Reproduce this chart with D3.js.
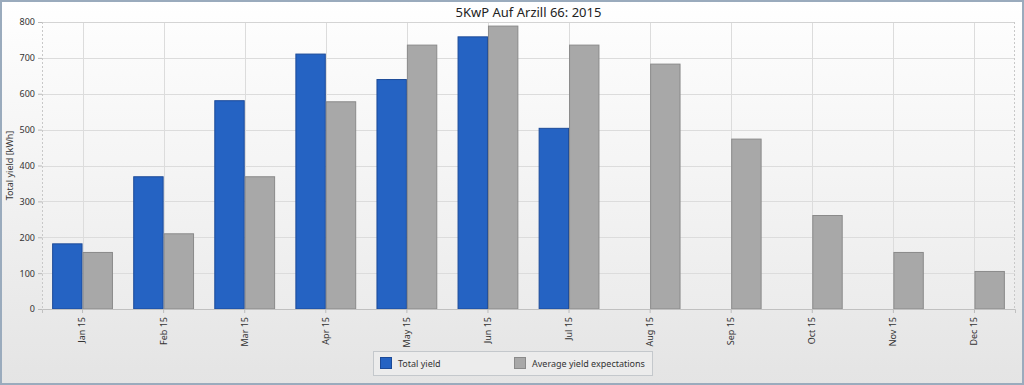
<!DOCTYPE html>
<html>
<head>
<meta charset="utf-8">
<script src="https://cdn.jsdelivr.net/npm/d3@7"></script>
<style>
  body { margin: 0; background: #fff; }
  svg { display: block; font-family: "Noto Sans", "Open Sans", sans-serif; }
</style>
</head>
<body>
<div id="chart"></div>
<script>
// data
var months = ["Jan 15", "Feb 15", "Mar 15", "Apr 15", "May 15", "Jun 15",
              "Jul 15", "Aug 15", "Sep 15", "Oct 15", "Nov 15", "Dec 15"];
var totalYield = [183, 370, 582, 712, 641, 760, 505, null, null, null, null, null];
var expectedYield = [159, 211, 370, 579, 737, 790, 737, 684, 475, 262, 159, 106];
var seriesNames = ["Total yield", "Average yield expectations"];
var yTicks = [0, 100, 200, 300, 400, 500, 600, 700, 800];

var width = 1024, height = 385;
var margin = { left: 42, top: 22, right: 9, bottom: 76 };
var innerW = width - margin.left - margin.right;
var innerH = height - margin.top - margin.bottom;

var colors = { fill: ["#2563c3", "#a8a8a8"], stroke: ["#1c4a98", "#8a8a8a"] };

var svg = d3.select("#chart").append("svg")
    .attr("width", width)
    .attr("height", height);

var defs = svg.append("defs");
var bgGrad = defs.append("linearGradient").attr("id", "bgGrad")
    .attr("x1", 0).attr("y1", 0).attr("x2", 0).attr("y2", 1);
bgGrad.append("stop").attr("offset", "0%").attr("stop-color", "#ffffff");
bgGrad.append("stop").attr("offset", "100%").attr("stop-color", "#e4e4e4");
var plotGrad = defs.append("linearGradient").attr("id", "plotGrad")
    .attr("x1", 0).attr("y1", 0).attr("x2", 0).attr("y2", 1);
plotGrad.append("stop").attr("offset", "0%").attr("stop-color", "#fdfdfd");
plotGrad.append("stop").attr("offset", "100%").attr("stop-color", "#ececec");

// outer frame
svg.append("rect")
    .attr("x", 1).attr("y", 1)
    .attr("width", width - 2).attr("height", height - 2)
    .attr("fill", "url(#bgGrad)")
    .attr("stroke", "#9aabbd")
    .attr("stroke-width", 2);

// title
svg.append("text")
    .attr("x", margin.left + innerW / 2)
    .attr("y", 17)
    .attr("text-anchor", "middle")
    .attr("font-size", "13px")
    .attr("fill", "#222")
    .text("5KwP Auf Arzill 66: 2015");

var g = svg.append("g").attr("transform", "translate(" + margin.left + "," + margin.top + ")");

// scales
var x0 = d3.scaleBand()
    .domain(months)
    .range([0, innerW])
    .paddingInner(0.25)
    .paddingOuter(0.125);

var x1 = d3.scaleBand()
    .domain([0, 1])
    .range([0, x0.bandwidth()]);

var y = d3.scaleLinear()
    .domain([0, 800])
    .range([innerH, 0]);

// plot background
g.append("rect")
    .attr("width", innerW).attr("height", innerH)
    .attr("fill", "url(#plotGrad)");

// grid
g.selectAll(".hgrid").data(yTicks).enter().append("line")
    .attr("x1", 0).attr("x2", innerW)
    .attr("y1", function (d) { return Math.round(y(d)) + 0.5; })
    .attr("y2", function (d) { return Math.round(y(d)) + 0.5; })
    .attr("stroke", "#dcdcdc");

g.selectAll(".vgrid").data(months).enter().append("line")
    .attr("x1", function (d) { return Math.round(x0(d) + x0.bandwidth() / 2) + 0.5; })
    .attr("x2", function (d) { return Math.round(x0(d) + x0.bandwidth() / 2) + 0.5; })
    .attr("y1", 0).attr("y2", innerH)
    .attr("stroke", "#dcdcdc");

// plot border
g.append("line").attr("x1", 0).attr("x2", innerW).attr("y1", 0.5).attr("y2", 0.5)
    .attr("stroke", "#d4d4d4");
g.append("line").attr("x1", 0.5).attr("x2", 0.5).attr("y1", 0).attr("y2", innerH)
    .attr("stroke", "#c8c8c8").attr("stroke-dasharray", "2,2");
g.append("line").attr("x1", innerW - 0.5).attr("x2", innerW - 0.5).attr("y1", 0).attr("y2", innerH)
    .attr("stroke", "#c8c8c8").attr("stroke-dasharray", "2,2");

// bars
var rows = months.map(function (m, i) {
    return { month: m, vals: [totalYield[i], expectedYield[i]] };
});

var groups = g.selectAll(".month").data(rows).enter().append("g")
    .attr("transform", function (d) { return "translate(" + x0(d.month) + ",0)"; });

groups.selectAll("rect")
    .data(function (d) {
        return d.vals.map(function (v, k) { return { k: k, v: v }; })
            .filter(function (e) { return e.v != null; });
    })
    .enter().append("rect")
    .attr("x", function (d) { return x1(d.k) + 0.5; })
    .attr("y", function (d) { return y(d.v) + 0.5; })
    .attr("width", x1.bandwidth() - 1)
    .attr("height", function (d) { return innerH - y(d.v) - 0.5; })
    .attr("fill", function (d) { return colors.fill[d.k]; })
    .attr("stroke", function (d) { return colors.stroke[d.k]; })
    .attr("stroke-width", 1);

// axes
var yAxis = g.append("g")
    .call(d3.axisLeft(y).tickValues(yTicks).tickSize(4).tickPadding(3));
yAxis.select(".domain").remove();
yAxis.selectAll("line").attr("stroke", "#bbb");
yAxis.selectAll("text").attr("font-size", "9px").attr("fill", "#333")
    .attr("font-family", "\"Noto Sans\", sans-serif");

var xAxis = g.append("g")
    .attr("transform", "translate(0," + innerH + ")")
    .call(d3.axisBottom(x0).tickSize(4).tickPadding(2));
xAxis.select(".domain").attr("stroke", "#c0c0c0");
xAxis.selectAll("line").attr("stroke", "#bbb");
xAxis.selectAll("text")
    .attr("font-size", "9px").attr("fill", "#333")
    .attr("font-family", "\"Noto Sans\", sans-serif")
    .attr("transform", "rotate(-90)")
    .attr("text-anchor", "end")
    .attr("x", -8)
    .attr("y", 0)
    .attr("dy", "0.32em");

// y title
svg.append("text")
    .attr("transform", "translate(13," + (margin.top + innerH / 2) + ") rotate(-90)")
    .attr("text-anchor", "middle")
    .attr("font-size", "9px")
    .attr("fill", "#333")
    .text("Total yield [kWh]");

// legend
var legend = svg.append("g").attr("transform", "translate(373,351)");
legend.append("rect")
    .attr("x", 0.5).attr("y", 0.5)
    .attr("width", 279).attr("height", 24)
    .attr("fill", "#ececec")
    .attr("stroke", "#c4c8cc");

var items = legend.selectAll(".item").data(seriesNames).enter().append("g")
    .attr("transform", function (d, i) { return "translate(" + (7 + i * 134) + ",6)"; });
items.append("rect")
    .attr("x", 0.5).attr("y", 0.5)
    .attr("width", 11).attr("height", 11)
    .attr("fill", function (d, i) { return colors.fill[i]; })
    .attr("stroke", function (d, i) { return colors.stroke[i]; });
items.append("text")
    .attr("x", 18).attr("y", 9.5)
    .attr("font-size", "9px")
    .attr("fill", "#333")
    .text(function (d) { return d; });
</script>
</body>
</html>
